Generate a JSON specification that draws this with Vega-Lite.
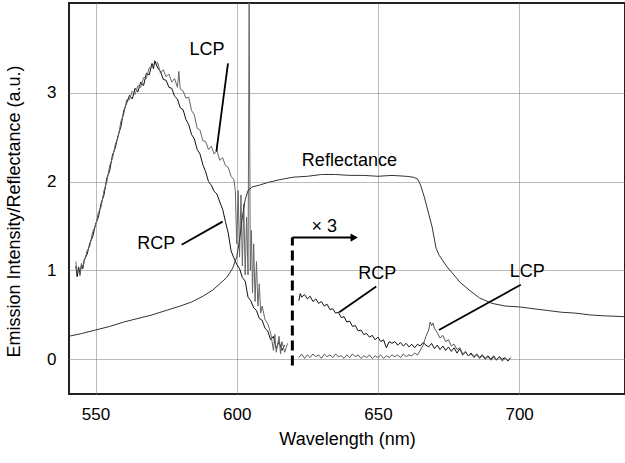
{
  "$schema": "https://vega.github.io/schema/vega-lite/v6.json",
  "width": 556,
  "height": 391,
  "autosize": "none",
  "padding": {"left": 69, "top": 3, "right": 0, "bottom": 69},
  "background": "white",
  "config": {
    "view": {"stroke": "#222", "strokeWidth": 2},
    "font": "Liberation Sans"
  },
  "datasets": {
    "curves": [
      {"curve":"RCP","x":543,"y":1.05},{"curve":"RCP","x":543.5,"y":0.93},{"curve":"RCP","x":544,"y":1.04},{"curve":"RCP","x":544.5,"y":0.96},{"curve":"RCP","x":545,"y":1.06},{"curve":"RCP","x":545.5,"y":1.02},{"curve":"RCP","x":546,"y":1.12},{"curve":"RCP","x":547,"y":1.18},{"curve":"RCP","x":548,"y":1.31},{"curve":"RCP","x":549,"y":1.38},{"curve":"RCP","x":550,"y":1.52},{"curve":"RCP","x":551,"y":1.6},{"curve":"RCP","x":552,"y":1.76},{"curve":"RCP","x":553,"y":1.85},{"curve":"RCP","x":554,"y":2.04},{"curve":"RCP","x":555,"y":2.12},{"curve":"RCP","x":556,"y":2.3},{"curve":"RCP","x":557,"y":2.38},{"curve":"RCP","x":558,"y":2.52},{"curve":"RCP","x":559,"y":2.62},{"curve":"RCP","x":560,"y":2.8},{"curve":"RCP","x":561,"y":2.88},{"curve":"RCP","x":562,"y":2.97},{"curve":"RCP","x":563,"y":2.93},{"curve":"RCP","x":564,"y":3.05},{"curve":"RCP","x":565,"y":3.01},{"curve":"RCP","x":566,"y":3.12},{"curve":"RCP","x":567,"y":3.08},{"curve":"RCP","x":568,"y":3.22},{"curve":"RCP","x":569,"y":3.2},{"curve":"RCP","x":570,"y":3.33},{"curve":"RCP","x":570.5,"y":3.27},{"curve":"RCP","x":571,"y":3.36},{"curve":"RCP","x":572,"y":3.28},{"curve":"RCP","x":573,"y":3.24},{"curve":"RCP","x":574,"y":3.15},{"curve":"RCP","x":575,"y":3.14},{"curve":"RCP","x":576,"y":3.06},{"curve":"RCP","x":577,"y":3.05},{"curve":"RCP","x":578,"y":2.96},{"curve":"RCP","x":579,"y":2.93},{"curve":"RCP","x":580,"y":2.83},{"curve":"RCP","x":581,"y":2.81},{"curve":"RCP","x":582,"y":2.7},{"curve":"RCP","x":583,"y":2.64},{"curve":"RCP","x":584,"y":2.53},{"curve":"RCP","x":585,"y":2.48},{"curve":"RCP","x":586,"y":2.36},{"curve":"RCP","x":587,"y":2.31},{"curve":"RCP","x":588,"y":2.19},{"curve":"RCP","x":589,"y":2.11},{"curve":"RCP","x":590,"y":2.0},{"curve":"RCP","x":591,"y":1.96},{"curve":"RCP","x":592,"y":1.89},{"curve":"RCP","x":593,"y":1.86},{"curve":"RCP","x":594,"y":1.77},{"curve":"RCP","x":595,"y":1.69},{"curve":"RCP","x":596,"y":1.55},{"curve":"RCP","x":597,"y":1.42},{"curve":"RCP","x":598,"y":1.22},{"curve":"RCP","x":599,"y":1.14},{"curve":"RCP","x":600,"y":1.07},{"curve":"RCP","x":601,"y":1.02},{"curve":"RCP","x":602,"y":0.92},{"curve":"RCP","x":603,"y":0.88},{"curve":"RCP","x":604,"y":0.7},{"curve":"RCP","x":605,"y":0.66},{"curve":"RCP","x":606,"y":0.58},{"curve":"RCP","x":607,"y":0.55},{"curve":"RCP","x":608,"y":0.46},{"curve":"RCP","x":609,"y":0.44},{"curve":"RCP","x":610,"y":0.35},{"curve":"RCP","x":611,"y":0.32},{"curve":"RCP","x":612,"y":0.22},{"curve":"RCP","x":613,"y":0.26},{"curve":"RCP","x":614,"y":0.12},{"curve":"RCP","x":615,"y":0.2},{"curve":"RCP","x":616,"y":0.1},{"curve":"RCP","x":617,"y":0.16},

      {"curve":"LCP","x":543,"y":1.1},{"curve":"LCP","x":543.5,"y":0.98},{"curve":"LCP","x":544,"y":1.0},{"curve":"LCP","x":544.5,"y":0.94},{"curve":"LCP","x":545,"y":1.08},{"curve":"LCP","x":545.5,"y":1.04},{"curve":"LCP","x":546,"y":1.1},{"curve":"LCP","x":547,"y":1.22},{"curve":"LCP","x":548,"y":1.28},{"curve":"LCP","x":549,"y":1.44},{"curve":"LCP","x":550,"y":1.5},{"curve":"LCP","x":551,"y":1.65},{"curve":"LCP","x":552,"y":1.72},{"curve":"LCP","x":553,"y":1.9},{"curve":"LCP","x":554,"y":2.0},{"curve":"LCP","x":555,"y":2.18},{"curve":"LCP","x":556,"y":2.26},{"curve":"LCP","x":557,"y":2.42},{"curve":"LCP","x":558,"y":2.5},{"curve":"LCP","x":559,"y":2.68},{"curve":"LCP","x":560,"y":2.76},{"curve":"LCP","x":561,"y":2.92},{"curve":"LCP","x":562,"y":2.92},{"curve":"LCP","x":563,"y":3.02},{"curve":"LCP","x":564,"y":2.98},{"curve":"LCP","x":565,"y":3.08},{"curve":"LCP","x":566,"y":3.06},{"curve":"LCP","x":567,"y":3.17},{"curve":"LCP","x":568,"y":3.16},{"curve":"LCP","x":569,"y":3.28},{"curve":"LCP","x":570,"y":3.3},{"curve":"LCP","x":571,"y":3.32},{"curve":"LCP","x":572,"y":3.34},{"curve":"LCP","x":573,"y":3.22},{"curve":"LCP","x":574,"y":3.26},{"curve":"LCP","x":575,"y":3.18},{"curve":"LCP","x":576,"y":3.21},{"curve":"LCP","x":577,"y":3.12},{"curve":"LCP","x":578,"y":3.16},{"curve":"LCP","x":579,"y":3.06},{"curve":"LCP","x":579.5,"y":3.24},{"curve":"LCP","x":580,"y":3.04},{"curve":"LCP","x":581,"y":3.02},{"curve":"LCP","x":582,"y":2.94},{"curve":"LCP","x":583,"y":2.95},{"curve":"LCP","x":584,"y":2.8},{"curve":"LCP","x":585,"y":2.75},{"curve":"LCP","x":586,"y":2.6},{"curve":"LCP","x":587,"y":2.58},{"curve":"LCP","x":588,"y":2.46},{"curve":"LCP","x":589,"y":2.45},{"curve":"LCP","x":590,"y":2.36},{"curve":"LCP","x":591,"y":2.4},{"curve":"LCP","x":592,"y":2.31},{"curve":"LCP","x":593,"y":2.35},{"curve":"LCP","x":594,"y":2.24},{"curve":"LCP","x":595,"y":2.27},{"curve":"LCP","x":596,"y":2.18},{"curve":"LCP","x":597,"y":2.16},{"curve":"LCP","x":598,"y":2.06},{"curve":"LCP","x":599,"y":2.02},{"curve":"LCP","x":599.5,"y":1.9},{"curve":"LCP","x":600,"y":1.3},{"curve":"LCP","x":600.5,"y":1.9},{"curve":"LCP","x":601,"y":1.15},{"curve":"LCP","x":601.5,"y":1.85},{"curve":"LCP","x":602,"y":1.05},{"curve":"LCP","x":602.5,"y":1.75},{"curve":"LCP","x":603,"y":0.95},{"curve":"LCP","x":603.5,"y":1.6},{"curve":"LCP","x":604,"y":0.95},{"curve":"LCP","x":604.4,"y":4.1},{"curve":"LCP","x":604.8,"y":1.0},{"curve":"LCP","x":605.2,"y":1.45},{"curve":"LCP","x":605.6,"y":0.75},{"curve":"LCP","x":606,"y":1.3},{"curve":"LCP","x":606.5,"y":0.65},{"curve":"LCP","x":607,"y":1.1},{"curve":"LCP","x":607.5,"y":0.6},{"curve":"LCP","x":608,"y":0.85},{"curve":"LCP","x":608.5,"y":0.52},{"curve":"LCP","x":609,"y":0.6},{"curve":"LCP","x":610,"y":0.45},{"curve":"LCP","x":611,"y":0.4},{"curve":"LCP","x":612,"y":0.3},{"curve":"LCP","x":613,"y":0.1},{"curve":"LCP","x":613.5,"y":0.28},{"curve":"LCP","x":614,"y":0.08},{"curve":"LCP","x":615,"y":0.26},{"curve":"LCP","x":615.5,"y":0.06},{"curve":"LCP","x":616,"y":0.2},{"curve":"LCP","x":617,"y":0.08},{"curve":"LCP","x":618,"y":0.18},

      {"curve":"Reflectance","x":540.6,"y":0.26},{"curve":"Reflectance","x":545,"y":0.29},{"curve":"Reflectance","x":550,"y":0.33},{"curve":"Reflectance","x":555,"y":0.37},{"curve":"Reflectance","x":560,"y":0.42},{"curve":"Reflectance","x":565,"y":0.46},{"curve":"Reflectance","x":570,"y":0.5},{"curve":"Reflectance","x":575,"y":0.55},{"curve":"Reflectance","x":580,"y":0.6},{"curve":"Reflectance","x":584,"y":0.645},{"curve":"Reflectance","x":588,"y":0.71},{"curve":"Reflectance","x":591.5,"y":0.78},{"curve":"Reflectance","x":594,"y":0.85},{"curve":"Reflectance","x":596.4,"y":0.92},{"curve":"Reflectance","x":598.5,"y":1.02},{"curve":"Reflectance","x":600,"y":1.15},{"curve":"Reflectance","x":601,"y":1.35},{"curve":"Reflectance","x":602,"y":1.6},{"curve":"Reflectance","x":603,"y":1.8},{"curve":"Reflectance","x":604,"y":1.9},{"curve":"Reflectance","x":605.5,"y":1.94},{"curve":"Reflectance","x":608,"y":1.96},{"curve":"Reflectance","x":611,"y":1.99},{"curve":"Reflectance","x":615,"y":2.02},{"curve":"Reflectance","x":620,"y":2.05},{"curve":"Reflectance","x":625,"y":2.06},{"curve":"Reflectance","x":630,"y":2.08},{"curve":"Reflectance","x":635,"y":2.08},{"curve":"Reflectance","x":640,"y":2.07},{"curve":"Reflectance","x":645,"y":2.07},{"curve":"Reflectance","x":650,"y":2.06},{"curve":"Reflectance","x":655,"y":2.07},{"curve":"Reflectance","x":660,"y":2.06},{"curve":"Reflectance","x":662.5,"y":2.05},{"curve":"Reflectance","x":664,"y":2.03},{"curve":"Reflectance","x":665,"y":1.97},{"curve":"Reflectance","x":666.4,"y":1.83},{"curve":"Reflectance","x":669.2,"y":1.49},{"curve":"Reflectance","x":670.6,"y":1.25},{"curve":"Reflectance","x":671.7,"y":1.17},{"curve":"Reflectance","x":674.5,"y":1.04},{"curve":"Reflectance","x":676.4,"y":0.97},{"curve":"Reflectance","x":679,"y":0.87},{"curve":"Reflectance","x":682.3,"y":0.78},{"curve":"Reflectance","x":686,"y":0.69},{"curve":"Reflectance","x":690.4,"y":0.63},{"curve":"Reflectance","x":695,"y":0.6},{"curve":"Reflectance","x":700,"y":0.59},{"curve":"Reflectance","x":705,"y":0.57},{"curve":"Reflectance","x":710,"y":0.55},{"curve":"Reflectance","x":715,"y":0.53},{"curve":"Reflectance","x":720,"y":0.52},{"curve":"Reflectance","x":725,"y":0.5},{"curve":"Reflectance","x":730,"y":0.49},{"curve":"Reflectance","x":737.5,"y":0.48},

      {"curve":"RCP x3","x":622,"y":0.66},{"curve":"RCP x3","x":622.5,"y":0.74},{"curve":"RCP x3","x":623,"y":0.7},{"curve":"RCP x3","x":624,"y":0.73},{"curve":"RCP x3","x":625,"y":0.68},{"curve":"RCP x3","x":626,"y":0.71},{"curve":"RCP x3","x":627,"y":0.65},{"curve":"RCP x3","x":628,"y":0.68},{"curve":"RCP x3","x":629,"y":0.63},{"curve":"RCP x3","x":630,"y":0.65},{"curve":"RCP x3","x":631,"y":0.6},{"curve":"RCP x3","x":632,"y":0.62},{"curve":"RCP x3","x":633,"y":0.56},{"curve":"RCP x3","x":634,"y":0.57},{"curve":"RCP x3","x":635,"y":0.52},{"curve":"RCP x3","x":636,"y":0.53},{"curve":"RCP x3","x":637,"y":0.47},{"curve":"RCP x3","x":638,"y":0.48},{"curve":"RCP x3","x":639,"y":0.42},{"curve":"RCP x3","x":640,"y":0.43},{"curve":"RCP x3","x":641,"y":0.37},{"curve":"RCP x3","x":642,"y":0.38},{"curve":"RCP x3","x":643,"y":0.32},{"curve":"RCP x3","x":644,"y":0.33},{"curve":"RCP x3","x":645,"y":0.28},{"curve":"RCP x3","x":646,"y":0.29},{"curve":"RCP x3","x":647,"y":0.25},{"curve":"RCP x3","x":648,"y":0.27},{"curve":"RCP x3","x":649,"y":0.22},{"curve":"RCP x3","x":650,"y":0.25},{"curve":"RCP x3","x":651,"y":0.2},{"curve":"RCP x3","x":652,"y":0.22},{"curve":"RCP x3","x":653,"y":0.13},{"curve":"RCP x3","x":654,"y":0.2},{"curve":"RCP x3","x":655,"y":0.18},{"curve":"RCP x3","x":656,"y":0.2},{"curve":"RCP x3","x":657,"y":0.16},{"curve":"RCP x3","x":658,"y":0.19},{"curve":"RCP x3","x":659,"y":0.15},{"curve":"RCP x3","x":660,"y":0.18},{"curve":"RCP x3","x":661,"y":0.14},{"curve":"RCP x3","x":662,"y":0.17},{"curve":"RCP x3","x":663,"y":0.13},{"curve":"RCP x3","x":664,"y":0.17},{"curve":"RCP x3","x":665,"y":0.15},{"curve":"RCP x3","x":666,"y":0.19},{"curve":"RCP x3","x":667,"y":0.16},{"curve":"RCP x3","x":668,"y":0.14},{"curve":"RCP x3","x":669,"y":0.18},{"curve":"RCP x3","x":670,"y":0.12},{"curve":"RCP x3","x":671,"y":0.16},{"curve":"RCP x3","x":672,"y":0.11},{"curve":"RCP x3","x":673,"y":0.15},{"curve":"RCP x3","x":674,"y":0.1},{"curve":"RCP x3","x":675,"y":0.14},{"curve":"RCP x3","x":676,"y":0.09},{"curve":"RCP x3","x":677,"y":0.13},{"curve":"RCP x3","x":678,"y":0.07},{"curve":"RCP x3","x":679,"y":0.12},{"curve":"RCP x3","x":680,"y":0.05},{"curve":"RCP x3","x":681,"y":0.08},{"curve":"RCP x3","x":682,"y":0.04},{"curve":"RCP x3","x":683,"y":0.07},{"curve":"RCP x3","x":684,"y":0.03},{"curve":"RCP x3","x":685,"y":0.06},{"curve":"RCP x3","x":686,"y":0.02},{"curve":"RCP x3","x":687,"y":0.05},{"curve":"RCP x3","x":688,"y":0.01},{"curve":"RCP x3","x":689,"y":0.04},{"curve":"RCP x3","x":690,"y":0.0},{"curve":"RCP x3","x":691,"y":0.04},{"curve":"RCP x3","x":692,"y":-0.01},{"curve":"RCP x3","x":693,"y":0.03},{"curve":"RCP x3","x":694,"y":0.0},{"curve":"RCP x3","x":695,"y":0.02},{"curve":"RCP x3","x":696,"y":-0.02},{"curve":"RCP x3","x":697,"y":0.02},

      {"curve":"LCP x3","x":622,"y":0.02},{"curve":"LCP x3","x":623,"y":0.06},{"curve":"LCP x3","x":624,"y":0.01},{"curve":"LCP x3","x":625,"y":0.05},{"curve":"LCP x3","x":626,"y":0.02},{"curve":"LCP x3","x":627,"y":0.06},{"curve":"LCP x3","x":628,"y":0.03},{"curve":"LCP x3","x":629,"y":0.05},{"curve":"LCP x3","x":630,"y":0.01},{"curve":"LCP x3","x":631,"y":0.06},{"curve":"LCP x3","x":632,"y":0.03},{"curve":"LCP x3","x":633,"y":0.05},{"curve":"LCP x3","x":634,"y":0.02},{"curve":"LCP x3","x":635,"y":0.06},{"curve":"LCP x3","x":636,"y":0.03},{"curve":"LCP x3","x":637,"y":0.04},{"curve":"LCP x3","x":638,"y":0.01},{"curve":"LCP x3","x":639,"y":0.05},{"curve":"LCP x3","x":640,"y":0.02},{"curve":"LCP x3","x":641,"y":0.06},{"curve":"LCP x3","x":642,"y":0.03},{"curve":"LCP x3","x":643,"y":0.05},{"curve":"LCP x3","x":644,"y":0.01},{"curve":"LCP x3","x":645,"y":0.04},{"curve":"LCP x3","x":646,"y":0.02},{"curve":"LCP x3","x":647,"y":0.05},{"curve":"LCP x3","x":648,"y":0.01},{"curve":"LCP x3","x":649,"y":0.04},{"curve":"LCP x3","x":650,"y":0.02},{"curve":"LCP x3","x":651,"y":0.05},{"curve":"LCP x3","x":652,"y":0.01},{"curve":"LCP x3","x":653,"y":0.04},{"curve":"LCP x3","x":654,"y":0.02},{"curve":"LCP x3","x":655,"y":0.05},{"curve":"LCP x3","x":656,"y":0.03},{"curve":"LCP x3","x":657,"y":0.05},{"curve":"LCP x3","x":658,"y":0.02},{"curve":"LCP x3","x":659,"y":0.06},{"curve":"LCP x3","x":660,"y":0.03},{"curve":"LCP x3","x":661,"y":0.05},{"curve":"LCP x3","x":662,"y":0.04},{"curve":"LCP x3","x":663,"y":0.07},{"curve":"LCP x3","x":664,"y":0.05},{"curve":"LCP x3","x":665,"y":0.1},{"curve":"LCP x3","x":666,"y":0.16},{"curve":"LCP x3","x":667,"y":0.26},{"curve":"LCP x3","x":668,"y":0.33},{"curve":"LCP x3","x":668.5,"y":0.42},{"curve":"LCP x3","x":669,"y":0.38},{"curve":"LCP x3","x":669.5,"y":0.41},{"curve":"LCP x3","x":670,"y":0.35},{"curve":"LCP x3","x":671,"y":0.3},{"curve":"LCP x3","x":672,"y":0.24},{"curve":"LCP x3","x":673,"y":0.27},{"curve":"LCP x3","x":674,"y":0.2},{"curve":"LCP x3","x":675,"y":0.22},{"curve":"LCP x3","x":676,"y":0.15},{"curve":"LCP x3","x":677,"y":0.17},{"curve":"LCP x3","x":678,"y":0.11},{"curve":"LCP x3","x":679,"y":0.13},{"curve":"LCP x3","x":680,"y":0.06},{"curve":"LCP x3","x":681,"y":0.09},{"curve":"LCP x3","x":682,"y":0.04},{"curve":"LCP x3","x":683,"y":0.06},{"curve":"LCP x3","x":684,"y":0.02},{"curve":"LCP x3","x":685,"y":0.05},{"curve":"LCP x3","x":686,"y":0.01},{"curve":"LCP x3","x":687,"y":0.04},{"curve":"LCP x3","x":688,"y":0.0},{"curve":"LCP x3","x":689,"y":0.03},{"curve":"LCP x3","x":690,"y":-0.01},{"curve":"LCP x3","x":691,"y":0.02},{"curve":"LCP x3","x":692,"y":0.0},{"curve":"LCP x3","x":693,"y":0.03},{"curve":"LCP x3","x":694,"y":-0.02},{"curve":"LCP x3","x":695,"y":0.01},{"curve":"LCP x3","x":696,"y":-0.01}
    ],
    "pointers": [
      {"x":596.9,"y":3.33,"x2":592.8,"y2":2.34},
      {"x":580.5,"y":1.29,"x2":595.0,"y2":1.55},
      {"x":649.4,"y":0.82,"x2":636.3,"y2":0.53},
      {"x":700.6,"y":0.84,"x2":671.6,"y2":0.33}
    ],
    "notes": [
      {"label":"LCP","x":589.5,"y":3.48},
      {"label":"RCP","x":571.5,"y":1.3},
      {"label":"Reflectance","x":639.9,"y":2.23},
      {"label":"RCP","x":649.8,"y":0.96},
      {"label":"LCP","x":702.9,"y":0.98},
      {"label":"× 3","x":631.0,"y":1.49}
    ],
    "marker": [
      {"x":619.7,"y":-0.07,"y2":1.37}
    ],
    "arrow": [
      {"x":619.7,"x2":640.5,"y":1.37}
    ],
    "head": [
      {"x":641.6,"y":1.37}
    ]
  },
  "encoding": {
    "x": {
      "field": "x", "type": "quantitative",
      "scale": {"domain": [540.6, 737.5], "nice": false, "zero": false},
      "axis": {
        "values": [550, 600, 650, 700], "grid": true, "gridDash": [1, 1], "gridColor": "#777", "gridWidth": 1,
        "ticks": false, "domain": false,
        "labelFont": "Liberation Sans", "labelFontSize": 17, "labelColor": "#000", "labelPadding": 12,
        "title": "Wavelength (nm)", "titleFont": "Liberation Sans", "titleFontSize": 18, "titleFontWeight": "normal", "titleColor": "#000", "titlePadding": 8
      }
    },
    "y": {
      "field": "y", "type": "quantitative",
      "scale": {"domain": [-0.39, 4.01], "nice": false, "zero": false},
      "axis": {
        "values": [0, 1, 2, 3], "grid": true, "gridDash": [1, 1], "gridColor": "#777", "gridWidth": 1,
        "ticks": false, "domain": false,
        "labelFont": "Liberation Sans", "labelFontSize": 17, "labelColor": "#000", "labelPadding": 13,
        "title": "Emission Intensity/Reflectance (a.u.)", "titleFont": "Liberation Sans", "titleFontSize": 18, "titleFontWeight": "normal", "titleColor": "#000",
        "titleAngle": -90, "titleBaseline": "top", "titleAlign": "center", "titleX": -64, "titleY": 208
      }
    }
  },
  "layer": [
    {
      "data": {"name": "curves"},
      "mark": {"type": "line", "strokeWidth": 1, "clip": true},
      "encoding": {
        "detail": {"field": "curve"},
        "color": {"field": "curve", "type": "nominal", "legend": null,
          "scale": {"domain": ["RCP", "LCP", "Reflectance", "RCP x3", "LCP x3"], "range": ["#111", "#666", "#333", "#111", "#555"]}}
      }
    },
    {
      "data": {"name": "pointers"},
      "mark": {"type": "rule", "color": "#000", "strokeWidth": 1.8},
      "encoding": {"x2": {"field": "x2"}, "y2": {"field": "y2"}}
    },
    {
      "data": {"name": "marker"},
      "mark": {"type": "rule", "color": "#000", "strokeWidth": 3, "strokeDash": [10, 5], "strokeCap": "butt"},
      "encoding": {"y2": {"field": "y2"}}
    },
    {
      "data": {"name": "arrow"},
      "mark": {"type": "rule", "color": "#000", "strokeWidth": 2},
      "encoding": {"x2": {"field": "x2"}}
    },
    {
      "data": {"name": "head"},
      "mark": {"type": "point", "shape": "triangle-right", "filled": true, "color": "#000", "size": 70, "opacity": 1}
    },
    {
      "data": {"name": "notes"},
      "mark": {"type": "text", "font": "Liberation Sans", "fontSize": 18, "color": "#000", "align": "center", "baseline": "middle"},
      "encoding": {"text": {"field": "label"}}
    }
  ]
}
